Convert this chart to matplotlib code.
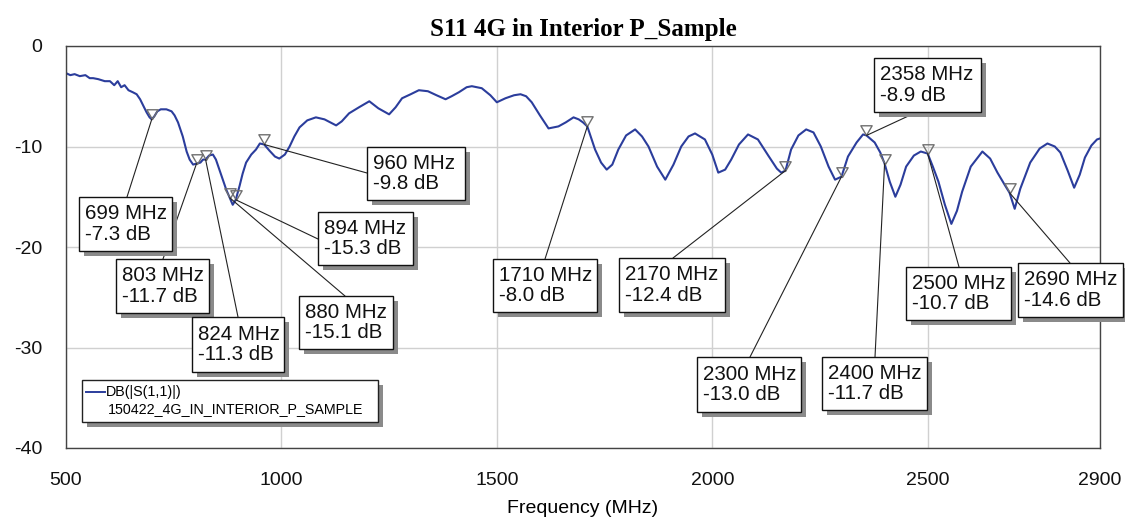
import matplotlib
matplotlib.use('Agg')
import matplotlib.pyplot as plt
from matplotlib.patches import Rectangle
from matplotlib.lines import Line2D
from matplotlib.path import Path

plt.rcParams['axes.unicode_minus'] = False

# trace (MHz, dB)
freq = [500, 510, 520, 532, 545, 555, 563, 575, 590, 602, 612, 620, 628, 636, 645, 655, 664, 672,
        679, 687, 694, 699, 705, 712, 720, 733, 745, 752, 760, 771, 780, 787, 795, 803, 812, 818,
        824, 832, 841, 848, 856, 864, 872, 880, 887, 894, 903, 910, 918, 930, 941, 950, 960, 972,
        985, 995, 1008, 1019, 1030, 1042, 1060, 1080, 1100, 1127, 1140, 1157, 1180, 1204, 1225,
        1250, 1265, 1280, 1300, 1319, 1340, 1360, 1381, 1395, 1412, 1430, 1442, 1465, 1485, 1500,
        1520, 1540, 1555, 1568, 1581, 1600, 1620, 1643, 1660, 1678, 1690, 1700, 1710, 1728, 1742,
        1755, 1768, 1782, 1800, 1821, 1837, 1852, 1872, 1891, 1910, 1928, 1945, 1960, 1983, 2000,
        2014, 2030, 2044, 2062, 2083, 2106, 2130, 2150, 2160, 2170, 2183, 2200, 2218, 2235, 2252,
        2270, 2285, 2300, 2315, 2335, 2350, 2358, 2377, 2390, 2400, 2412, 2425, 2437, 2450, 2468,
        2484, 2500, 2512, 2525, 2540, 2555, 2568, 2580, 2600, 2627, 2645, 2662, 2680, 2690, 2702,
        2715, 2738, 2760, 2778, 2795, 2808, 2825, 2840, 2853, 2865, 2880, 2893, 2900]
s11 = [-2.7, -2.9, -2.8, -3.0, -2.9, -3.2, -3.2, -3.3, -3.5, -3.5, -3.9, -3.5, -4.1, -3.9, -4.4,
       -4.6, -4.8, -5.3, -5.9, -6.6, -7.1, -7.3, -7.0, -6.5, -6.3, -6.3, -6.5, -6.9, -7.6, -9.0,
       -10.5, -11.3, -11.8, -11.7, -11.6, -11.3, -11.3, -10.9, -10.8, -11.3, -12.3, -13.3, -14.3,
       -15.1, -15.8, -15.3, -13.9, -12.7, -11.6, -10.8, -10.3, -9.7, -9.8, -10.4, -11.0, -11.2,
       -10.8, -10.0, -9.0, -8.1, -7.4, -7.1, -7.3, -7.9, -7.5, -6.7, -6.1, -5.5, -6.2, -6.8, -6.1,
       -5.2, -4.8, -4.4, -4.5, -4.9, -5.3, -5.0, -4.6, -4.1, -4.0, -4.2, -4.9, -5.6, -5.2, -4.9,
       -4.8, -5.0, -5.6, -6.9, -8.2, -8.0, -7.6, -7.1, -7.3, -7.6, -8.0, -10.3, -11.6, -12.3,
       -11.8, -10.3, -8.9, -8.3, -9.0, -10.0, -12.0, -13.3, -11.8, -10.0, -9.0, -8.7, -9.3, -10.8,
       -12.6, -12.3, -11.3, -9.8, -8.8, -9.3, -10.9, -12.2, -12.6, -12.4, -10.3, -8.9, -8.3, -8.6,
       -10.0, -12.0, -13.3, -13.0, -11.0, -9.6, -8.8, -8.9, -9.6, -10.6, -11.7, -13.5, -15.0,
       -13.8, -12.0, -10.9, -10.5, -10.7, -12.0, -13.5, -15.8, -17.7, -16.4, -14.5, -12.0, -10.5,
       -11.2, -12.6, -13.9, -14.6, -16.2, -14.2, -11.6, -10.2, -9.7, -10.0, -10.6, -12.4, -14.1,
       -12.8, -11.1, -9.9, -9.3, -9.2]

# markers
mk_freq = [699, 803, 824, 880, 894, 960, 1710, 2170, 2300, 2358, 2400, 2500, 2690]
mk_db = [-7.3, -11.7, -11.3, -15.1, -15.3, -9.8, -8.0, -12.4, -13.0, -8.9, -11.7, -10.7, -14.6]

# label boxes in figure pixels (x0, y0, x1, y1 from top-left) and leader anchor
boxes = [(79, 197, 172, 251), (116, 259, 209, 313), (192, 317, 284, 372), (299, 296, 393, 349),
         (318, 212, 413, 265), (367, 147, 465, 200), (493, 259, 597, 312), (619, 258, 725, 312),
         (697, 357, 801, 412), (874, 58, 981, 112), (822, 357, 927, 410), (906, 267, 1011, 320),
         (1018, 263, 1123, 317)]
anchors = [(127, 197), (163, 259), (238, 317), (345, 296), (318, 239), (367, 173), (545, 259),
           (673, 258), (750, 357), (917, 112), (875, 357), (959, 267), (1070, 263)]

W, H = 1125, 518
fig = plt.figure(figsize=(W / 100, H / 100), dpi=100)
ax = fig.add_axes([66 / W, 1 - 448 / H, (1100 - 66) / W, (448 - 46) / H])

def fx(x):
    return x / W

def fy(y):
    return 1 - y / H

ax.plot(freq, s11, color='#2b3d9c', lw=1.5, zorder=2)

tri = Path([(-0.58, 1), (0.58, 1), (0, 0), (-0.58, 1)],
           [Path.MOVETO, Path.LINETO, Path.LINETO, Path.CLOSEPOLY])
ax.plot(mk_freq, mk_db, ls='none', marker=tri, markersize=14, markerfacecolor='none',
        markeredgecolor='#707070', markeredgewidth=1.0, zorder=3)

ax.set_xlim(500, 2900)
ax.set_ylim(-40, 0)
ax.set_xticks([500, 1000, 1500, 2000, 2500, 2900])
ax.set_yticks([0, -10, -20, -30, -40])
ax.grid(True, color='#d0d0d0', lw=1.0)
ax.set_axisbelow(True)
for sp in ax.spines.values():
    sp.set_color('#444444')
    sp.set_linewidth(1.0)
ax.tick_params(length=0, labelsize=14, colors='#111111')
ax.tick_params(axis='y', pad=17)
ax.tick_params(axis='x', pad=17)
for lab in ax.get_xticklabels() + ax.get_yticklabels():
    lab.set_family('Liberation Sans')
ax.set_xlabel('Frequency (MHz)', fontsize=14, family='Liberation Sans', labelpad=8)
ax.set_title('S11 4G in Interior P_Sample', fontsize=18, family='Liberation Serif',
             fontweight='bold', pad=7)

for (f, d), (px, py) in zip(zip(mk_freq, mk_db), anchors):
    ax.annotate('', xy=(f, d), xycoords='data', xytext=(fx(px), fy(py)),
                textcoords='figure fraction', annotation_clip=False,
                arrowprops=dict(arrowstyle='-', color='#222222', lw=0.8,
                                shrinkA=0, shrinkB=0), zorder=4)

sh = 5
for (f, d), (x0, y0, x1, y1) in zip(zip(mk_freq, mk_db), boxes):
    fig.add_artist(Rectangle((fx(x0 + sh), fy(y1 + sh)), (x1 - x0) / W, (y1 - y0) / H,
                             transform=fig.transFigure, facecolor='#8a8a8a',
                             edgecolor='none', zorder=5))
    fig.add_artist(Rectangle((fx(x0), fy(y1)), (x1 - x0) / W, (y1 - y0) / H,
                             transform=fig.transFigure, facecolor='white',
                             edgecolor='#111111', lw=1.0, zorder=6))
    fig.text(fx(x0 + 6), fy((y0 + y1) / 2), '%d MHz\n%.1f dB' % (f, d), fontsize=14.8,
             family='Liberation Sans', ha='left', va='center', linespacing=1.1,
             color='#111111', zorder=7)

# legend box
lx0, ly0, lx1, ly1 = 82, 380, 378, 422
fig.add_artist(Rectangle((fx(lx0 + sh), fy(ly1 + sh)), (lx1 - lx0) / W, (ly1 - ly0) / H,
                         transform=fig.transFigure, facecolor='#8a8a8a', edgecolor='none',
                         zorder=5))
fig.add_artist(Rectangle((fx(lx0), fy(ly1)), (lx1 - lx0) / W, (ly1 - ly0) / H,
                         transform=fig.transFigure, facecolor='white', edgecolor='#222222',
                         lw=1.0, zorder=6))
fig.add_artist(Line2D([fx(86), fx(105)], [fy(392), fy(392)], transform=fig.transFigure,
                      color='#2b3d9c', lw=1.4, zorder=7))
fig.text(fx(106), fy(392), 'DB(|S(1,1)|)', fontsize=10.3, family='Liberation Sans',
         ha='left', va='center', zorder=7)
fig.text(fx(108), fy(409), '150422_4G_IN_INTERIOR_P_SAMPLE', fontsize=10.3,
         family='Liberation Sans', ha='left', va='center', zorder=7)

fig.savefig('out.png', dpi=100)
